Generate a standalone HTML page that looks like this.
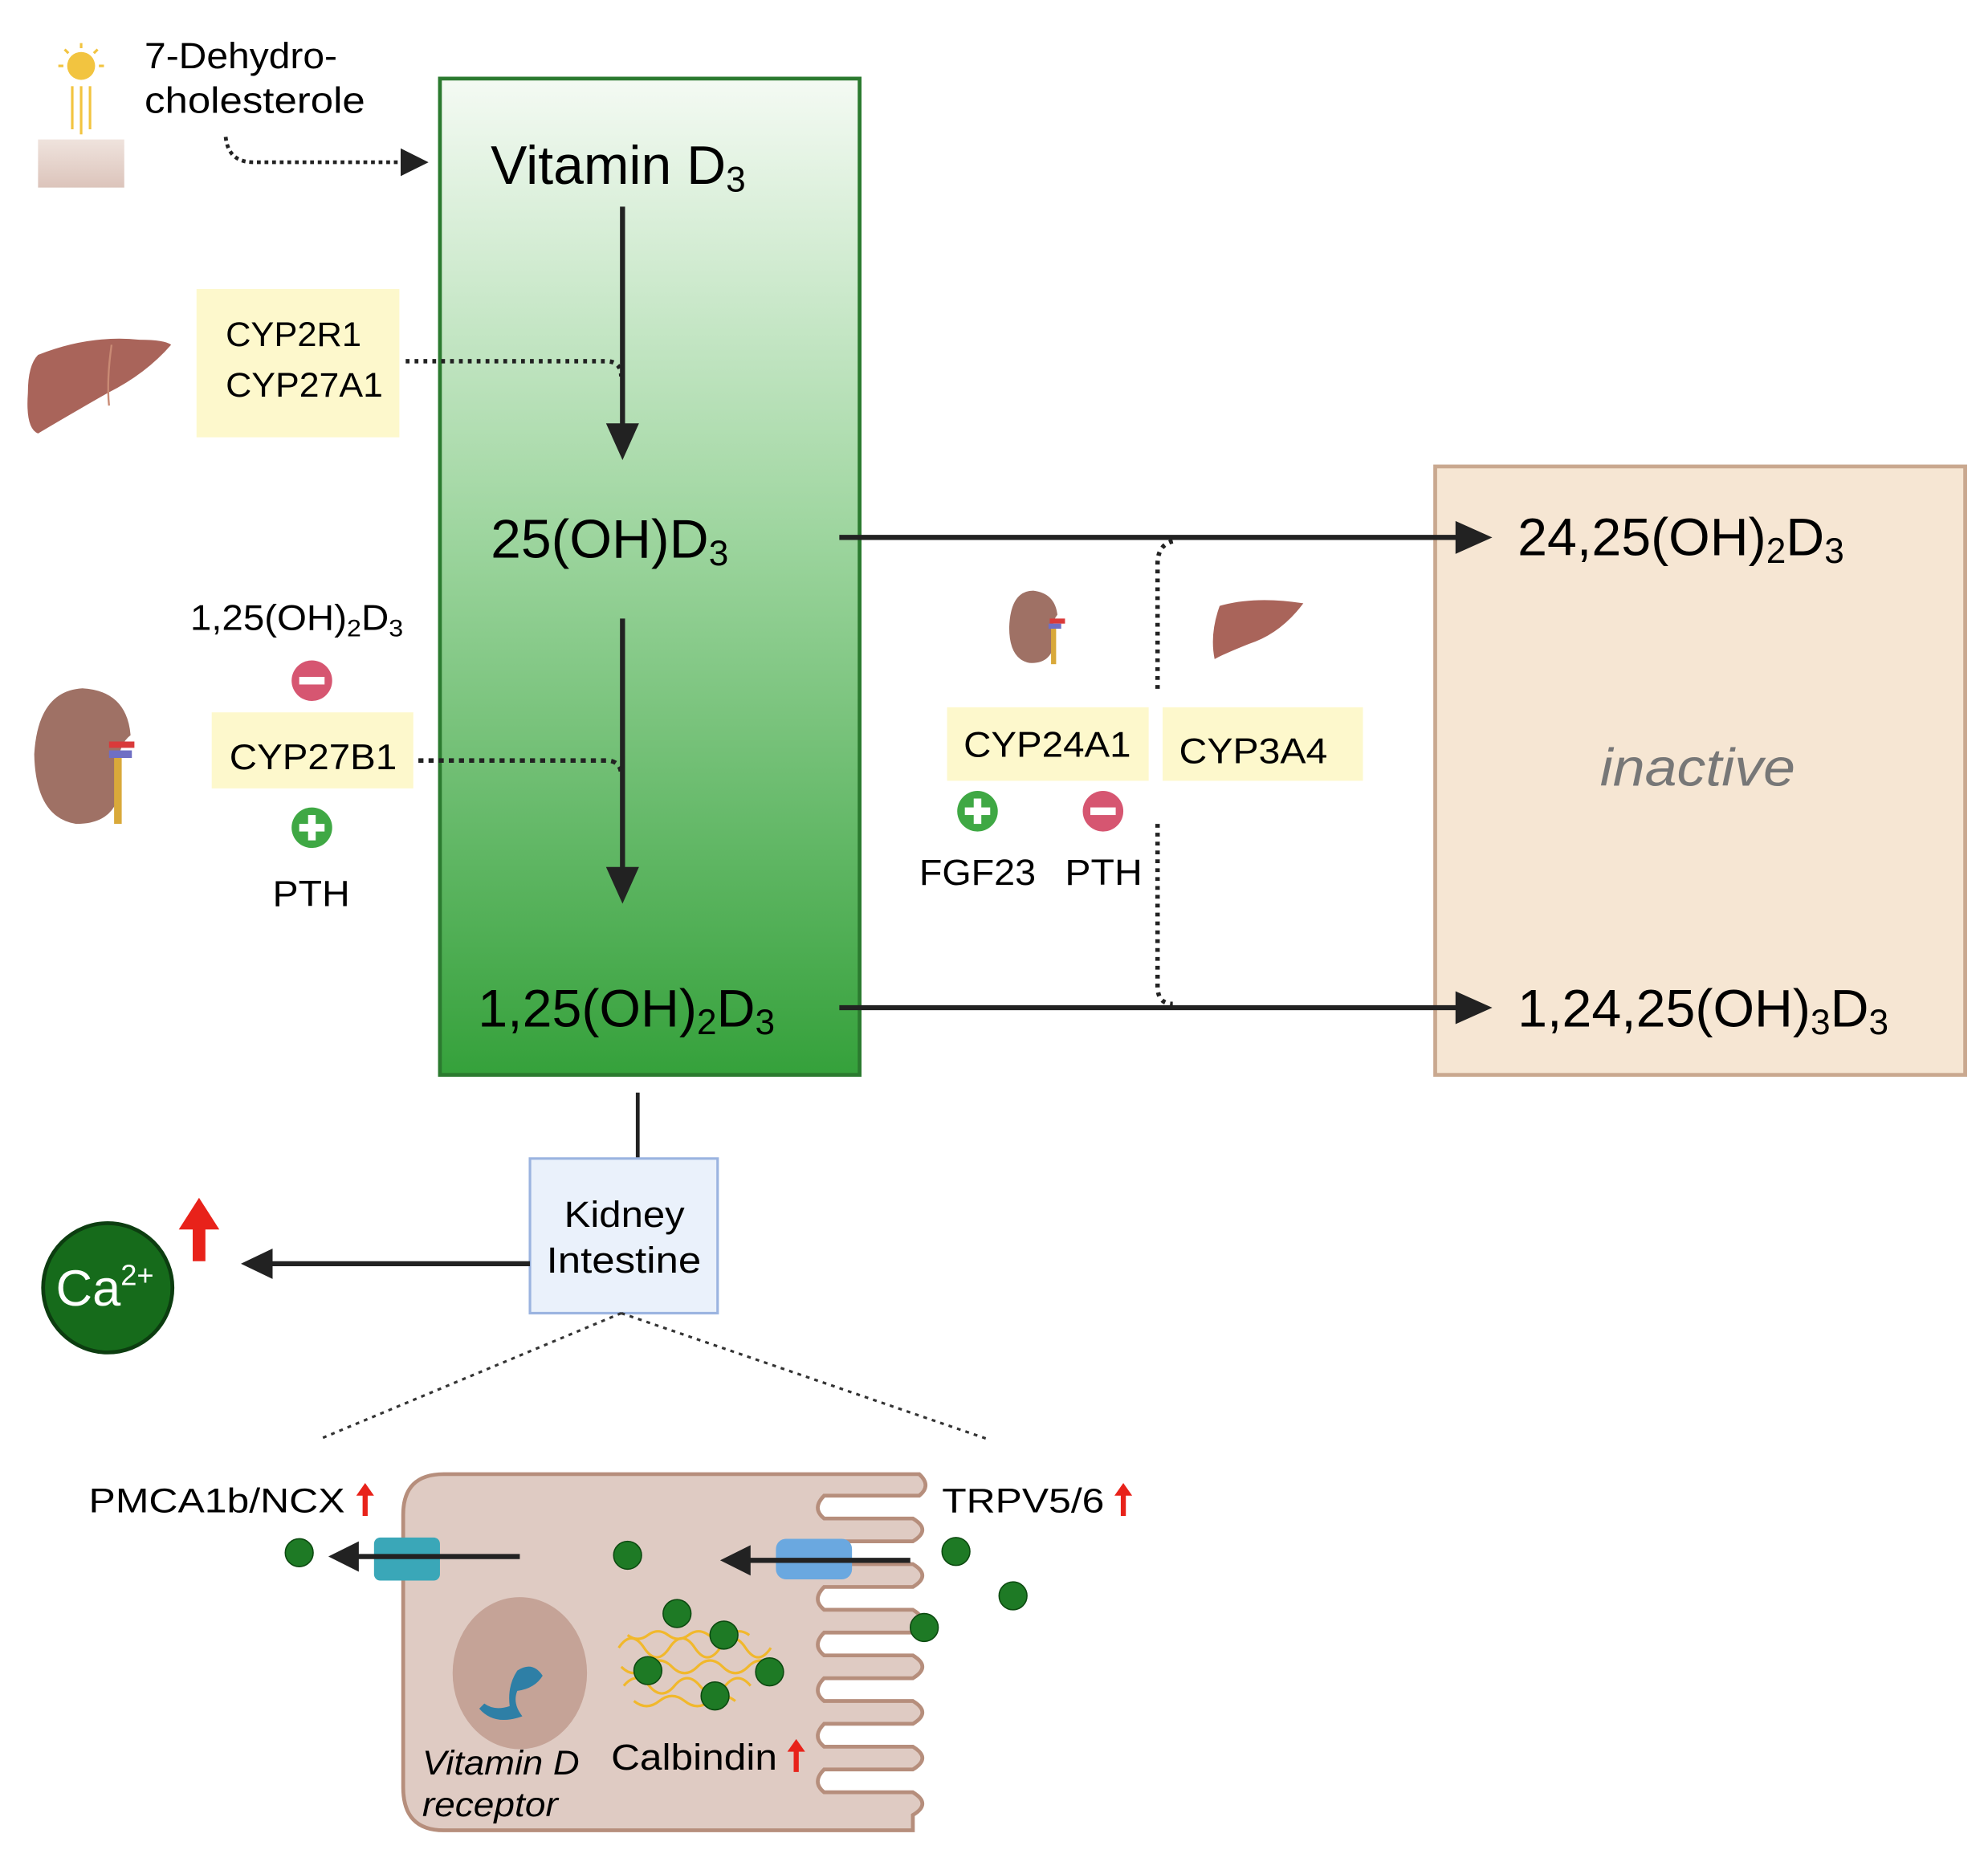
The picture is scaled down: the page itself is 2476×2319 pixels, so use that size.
<!DOCTYPE html>
<html><head><meta charset="utf-8"><style>html,body{margin:0;padding:0;background:#fff}svg{display:block}text{font-family:"Liberation Sans",sans-serif}</style></head>
<body>
<svg width="2476" height="2319" viewBox="0 0 1568 1469" preserveAspectRatio="none" xmlns="http://www.w3.org/2000/svg">
<defs>
<linearGradient id="g" x1="0" y1="0" x2="0" y2="1"><stop offset="0" stop-color="#f4faf3"/><stop offset="0.45" stop-color="#9fd6a0"/><stop offset="1" stop-color="#35a13b"/></linearGradient>
<linearGradient id="skin" x1="0" y1="0" x2="0" y2="1"><stop offset="0" stop-color="#efe3dd"/><stop offset="1" stop-color="#dcc4bb"/></linearGradient>
</defs>
<!-- sun & skin -->
<circle cx="64" cy="52" r="11" fill="#f2c440"/>
<g stroke="#f2c440" stroke-width="2"><line x1="64" y1="34" x2="64" y2="38"/><line x1="46" y1="52" x2="50" y2="52"/><line x1="78" y1="52" x2="82" y2="52"/><line x1="51" y1="39" x2="54" y2="42"/><line x1="77" y1="39" x2="74" y2="42"/><line x1="57" y1="68" x2="57" y2="102"/><line x1="64" y1="68" x2="64" y2="106"/><line x1="71" y1="68" x2="71" y2="102"/></g>
<rect x="30" y="110" width="68" height="38" fill="url(#skin)"/>
<text x="114" y="54" font-size="29" textLength="152" lengthAdjust="spacingAndGlyphs">7-Dehydro-</text>
<text x="114" y="89" font-size="29" textLength="174" lengthAdjust="spacingAndGlyphs">cholesterole</text>
<path d="M178,108 Q180,128 200,128 L318,128" fill="none" stroke="#222" stroke-width="3" stroke-dasharray="3,3"/>
<path d="M316,117 L338,128 L316,139z" fill="#222"/>
<!-- green box -->
<rect x="347" y="62" width="331" height="786" fill="url(#g)" stroke="#2b7a2f" stroke-width="3"/>
<text x="387" y="145" font-size="43">Vitamin D<tspan font-size="28" dy="6">3</tspan></text>
<line x1="491" y1="163" x2="491" y2="340" stroke="#222" stroke-width="4"/>
<path d="M478,334 L491,363 L504,334z" fill="#222"/>
<text x="387" y="440" font-size="43">25(OH)D<tspan font-size="28" dy="6">3</tspan></text>
<line x1="491" y1="488" x2="491" y2="690" stroke="#222" stroke-width="4"/>
<path d="M478,684 L491,713 L504,684z" fill="#222"/>
<text x="377" y="810" font-size="42">1,25(OH)<tspan font-size="28" dy="6">2</tspan><tspan dy="-6">D</tspan><tspan font-size="28" dy="6">3</tspan></text>
<!-- liver left -->
<path d="M30,280 Q70,264 110,268 Q130,268 135,272 Q115,295 85,310 Q50,330 30,342 Q20,338 22,310 Q22,288 30,280z" fill="#a9645a"/>
<path d="M88,272 Q84,300 86,320" stroke="#c98a74" stroke-width="1.5" fill="none"/>
<rect x="155" y="228" width="160" height="117" fill="#fdf8cc"/>
<text x="178" y="273" font-size="27" textLength="107" lengthAdjust="spacingAndGlyphs">CYP2R1</text>
<text x="178" y="313" font-size="27" textLength="124" lengthAdjust="spacingAndGlyphs">CYP27A1</text>
<path d="M320,285 L478,285 Q490,285 490,297" fill="none" stroke="#222" stroke-width="3.5" stroke-dasharray="3,4"/>
<!-- kidney left -->
<path d="M65,543 Q100,545 103,580 Q90,590 95,615 Q95,650 60,650 Q28,645 27,595 Q30,545 65,543z" fill="#9f7165"/>
<rect x="86" y="585" width="20" height="5" fill="#d93a3a"/><rect x="86" y="592" width="18" height="6" fill="#6f6fc4"/><rect x="90" y="598" width="6" height="52" fill="#d9a93a"/>
<text x="150" y="497" font-size="28" textLength="168" lengthAdjust="spacingAndGlyphs">1,25(OH)<tspan font-size="19" dy="5">2</tspan><tspan dy="-5">D</tspan><tspan font-size="19" dy="5">3</tspan></text>
<circle cx="246" cy="537" r="16" fill="#d65671"/><rect x="236" y="534" width="20" height="6" fill="#fff"/>
<rect x="167" y="562" width="159" height="60" fill="#fdf8cc"/>
<text x="181" y="607" font-size="28" textLength="132" lengthAdjust="spacingAndGlyphs">CYP27B1</text>
<path d="M330,600 L478,600 Q490,600 490,612" fill="none" stroke="#222" stroke-width="3.5" stroke-dasharray="4,4"/>
<circle cx="246" cy="653" r="16" fill="#3fa844"/><rect x="236" y="650" width="20" height="6" fill="#fff"/><rect x="243" y="643" width="6" height="20" fill="#fff"/>
<text x="215" y="715" font-size="29" textLength="61" lengthAdjust="spacingAndGlyphs">PTH</text>
<!-- beige box -->
<rect x="1132" y="368" width="418" height="480" fill="#f6e6d3" stroke="#c9a88f" stroke-width="3"/>
<!-- right arrows -->
<line x1="662" y1="424" x2="1155" y2="424" stroke="#222" stroke-width="4"/>
<path d="M1148,411 L1177,424 L1148,437z" fill="#222"/>
<line x1="662" y1="795" x2="1155" y2="795" stroke="#222" stroke-width="4"/>
<path d="M1148,782 L1177,795 L1148,808z" fill="#222"/>
<path d="M925,427 Q913,430 913,445 L913,545" fill="none" stroke="#222" stroke-width="3.5" stroke-dasharray="3,4"/>
<path d="M913,650 L913,778 Q913,792 925,792" fill="none" stroke="#222" stroke-width="3.5" stroke-dasharray="3,4"/>
<text x="1197" y="438" font-size="42">24,25(OH)<tspan font-size="28" dy="6">2</tspan><tspan dy="-6">D</tspan><tspan font-size="28" dy="6">3</tspan></text>
<text x="1262" y="620" font-size="42" font-style="italic" fill="#777" textLength="154" lengthAdjust="spacingAndGlyphs">inactive</text>
<text x="1197" y="810" font-size="42">1,24,25(OH)<tspan font-size="28" dy="6">3</tspan><tspan dy="-6">D</tspan><tspan font-size="28" dy="6">3</tspan></text>
<!-- small kidney, liver -->
<path d="M815,466 Q832,468 834,485 Q828,492 832,505 Q830,524 812,523 Q796,520 796,495 Q797,466 815,466z" fill="#9f7165"/>
<rect x="828" y="488" width="12" height="4" fill="#d93a3a"/><rect x="827" y="492" width="10" height="4" fill="#6f6fc4"/><rect x="829" y="496" width="4" height="28" fill="#d9a93a"/>
<path d="M962,478 Q990,470 1028,476 Q1010,500 985,508 Q965,516 958,520 Q954,500 962,478z" fill="#a9645a"/>
<rect x="747" y="558" width="159" height="58" fill="#fdf8cc"/>
<text x="760" y="597" font-size="28" textLength="132" lengthAdjust="spacingAndGlyphs">CYP24A1</text>
<rect x="917" y="558" width="158" height="58" fill="#fdf8cc"/>
<text x="930" y="602" font-size="28" textLength="117" lengthAdjust="spacingAndGlyphs">CYP3A4</text>
<circle cx="771" cy="640" r="16" fill="#3fa844"/><rect x="761" y="637" width="20" height="6" fill="#fff"/><rect x="768" y="630" width="6" height="20" fill="#fff"/>
<circle cx="870" cy="640" r="16" fill="#d65671"/><rect x="860" y="637" width="20" height="6" fill="#fff"/>
<text x="725" y="698" font-size="29" textLength="92" lengthAdjust="spacingAndGlyphs">FGF23</text>
<text x="840" y="698" font-size="29" textLength="61" lengthAdjust="spacingAndGlyphs">PTH</text>
<!-- bottom -->
<line x1="503" y1="862" x2="503" y2="914" stroke="#222" stroke-width="3"/>
<rect x="418" y="914" width="148" height="122" fill="#eaf1fb" stroke="#9bb4e0" stroke-width="2"/>
<text x="445" y="968" font-size="29" textLength="95" lengthAdjust="spacingAndGlyphs">Kidney</text>
<text x="431" y="1004" font-size="29" textLength="122" lengthAdjust="spacingAndGlyphs">Intestine</text>
<line x1="418" y1="997" x2="210" y2="997" stroke="#222" stroke-width="4"/>
<path d="M215,985 L190,997 L215,1009z" fill="#222"/>
<circle cx="85" cy="1016" r="51" fill="#166b1b" stroke="#0c3d10" stroke-width="3"/>
<text x="44" y="1030" font-size="40" fill="#fff">Ca<tspan font-size="23" dy="-16">2+</tspan></text>
<path d="M152,995 L152,970 L141,970 L157,945 L173,970 L162,970 L162,995z" fill="#e8221a"/>
<line x1="490" y1="1036" x2="253" y2="1135" stroke="#333" stroke-width="2" stroke-dasharray="3,4"/>
<line x1="490" y1="1036" x2="778" y2="1135" stroke="#333" stroke-width="2" stroke-dasharray="3,4"/>
<!-- cell -->
<path d="M350,1163 L725,1163 Q735,1172 725,1180 L650,1180 Q640,1190 650,1198 L720,1198 Q735,1207 720,1216 L650,1216 Q640,1226 650,1234 L720,1234 Q735,1243 720,1252 L650,1252 Q640,1262 650,1270 L720,1270 Q735,1279 720,1288 L650,1288 Q640,1298 650,1306 L720,1306 Q735,1315 720,1324 L650,1324 Q640,1334 650,1342 L720,1342 Q735,1351 720,1360 L650,1360 Q640,1370 650,1378 L720,1378 Q735,1387 720,1396 L650,1396 Q640,1406 650,1414 L720,1414 Q735,1423 720,1432 L720,1444 L350,1444 Q318,1444 318,1410 L318,1195 Q318,1163 350,1163z" fill="#dfcbc3" stroke="#b68e7c" stroke-width="3"/>
<ellipse cx="410" cy="1320" rx="53" ry="60" fill="#c5a397"/>
<path d="M378,1348 Q390,1362 412,1354 Q404,1344 408,1334 Q422,1332 428,1322 Q420,1310 408,1318 Q400,1330 402,1346 Q390,1350 382,1344z" fill="#2e7fa6"/>
<text x="333" y="1400" font-size="27" font-style="italic" textLength="124" lengthAdjust="spacingAndGlyphs">Vitamin D</text>
<text x="333" y="1433" font-size="27" font-style="italic" textLength="107" lengthAdjust="spacingAndGlyphs">receptor</text>
<g stroke="#f1b82c" stroke-width="2" fill="none"><path d="M488,1300 q10,-15 20,0 t20,0 t20,0 t20,0 t20,0 t20,0"/><path d="M490,1315 q10,10 20,0 t20,0 t20,0 t20,0 t20,0 t20,0"/><path d="M492,1330 q10,-12 20,0 t20,0 t20,0 t20,0 t20,0"/><path d="M500,1342 q10,8 20,0 t20,0 t20,0 t20,0"/><path d="M495,1290 q8,6 16,0 t16,0 t16,0 t16,0 t16,0 t16,0"/></g>
<text x="482" y="1396" font-size="29" textLength="131" lengthAdjust="spacingAndGlyphs">Calbindin</text>
<text x="70" y="1193" font-size="27" textLength="202" lengthAdjust="spacingAndGlyphs">PMCA1b/NCX</text>
<text x="743" y="1193" font-size="27" textLength="128" lengthAdjust="spacingAndGlyphs">TRPV5/6</text>
<g fill="#e8221a"><path d="M286,1196 L286,1180 L281,1180 L288,1170 L295,1180 L290,1180 L290,1196z"/><path d="M884,1196 L884,1180 L879,1180 L886,1170 L893,1180 L888,1180 L888,1196z"/><path d="M626,1398 L626,1382 L621,1382 L628,1372 L635,1382 L630,1382 L630,1398z"/></g>
<rect x="295" y="1213" width="52" height="34" rx="5" fill="#3aa7b8"/>
<rect x="612" y="1214" width="60" height="32" rx="8" fill="#6aa8e0"/>
<line x1="410" y1="1228" x2="280" y2="1228" stroke="#222" stroke-width="4"/>
<path d="M283,1216 L259,1228 L283,1240z" fill="#222"/>
<line x1="718" y1="1231" x2="590" y2="1231" stroke="#222" stroke-width="4"/>
<path d="M592,1219 L568,1231 L592,1243z" fill="#222"/>
<g fill="#1e7a25" stroke="#0c4a10" stroke-width="1">
<circle cx="236" cy="1225" r="11"/><circle cx="495" cy="1227" r="11"/><circle cx="754" cy="1224" r="11"/><circle cx="799" cy="1259" r="11"/><circle cx="729" cy="1284" r="11"/><circle cx="534" cy="1273" r="11"/><circle cx="571" cy="1290" r="11"/><circle cx="511" cy="1318" r="11"/><circle cx="607" cy="1319" r="11"/><circle cx="564" cy="1338" r="11"/>
</g>
</svg>
</body></html>
